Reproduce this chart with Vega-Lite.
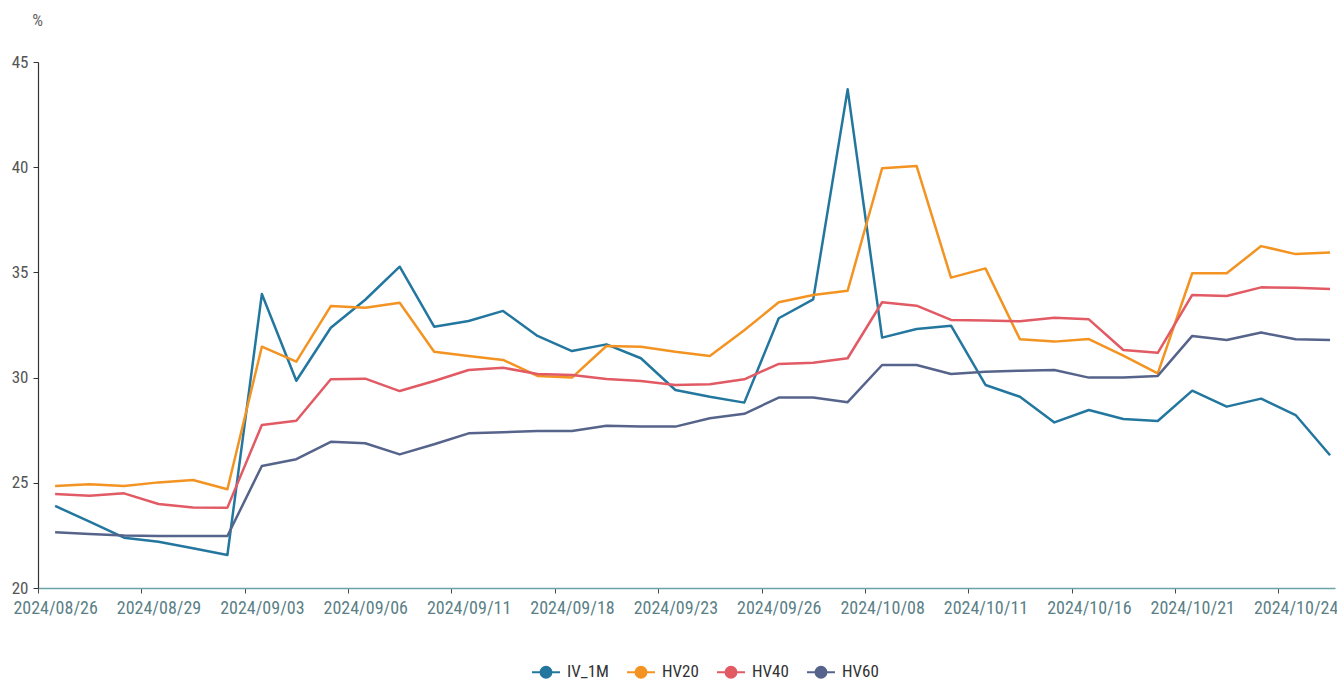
{
  "$schema": "https://vega.github.io/schema/vega-lite/v6.json",
  "width": 1297,
  "height": 526,
  "autosize": {"type": "none"},
  "padding": {"left": 38, "top": 62, "right": 2, "bottom": 95},
  "background": "white",
  "config": {
    "view": {"stroke": null},
    "font": "Liberation Sans Narrow, Roboto Condensed, Roboto, sans-serif"
  },
  "data": {
    "values": [
      {"date": "2024/08/26", "IV_1M": 23.9, "HV20": 24.85, "HV40": 24.47, "HV60": 22.65},
      {"date": "2024/08/27", "IV_1M": 23.15, "HV20": 24.93, "HV40": 24.39, "HV60": 22.57},
      {"date": "2024/08/28", "IV_1M": 22.39, "HV20": 24.85, "HV40": 24.5, "HV60": 22.49},
      {"date": "2024/08/29", "IV_1M": 22.2, "HV20": 25.02, "HV40": 23.99, "HV60": 22.47},
      {"date": "2024/08/30", "IV_1M": 21.89, "HV20": 25.13, "HV40": 23.83, "HV60": 22.47},
      {"date": "2024/09/02", "IV_1M": 21.57, "HV20": 24.69, "HV40": 23.82, "HV60": 22.47},
      {"date": "2024/09/03", "IV_1M": 33.97, "HV20": 31.47, "HV40": 27.75, "HV60": 25.8},
      {"date": "2024/09/04", "IV_1M": 29.85, "HV20": 30.76, "HV40": 27.95, "HV60": 26.12},
      {"date": "2024/09/05", "IV_1M": 32.37, "HV20": 33.4, "HV40": 29.92, "HV60": 26.95},
      {"date": "2024/09/06", "IV_1M": 33.7, "HV20": 33.32, "HV40": 29.95, "HV60": 26.88},
      {"date": "2024/09/09", "IV_1M": 35.27, "HV20": 33.56, "HV40": 29.36, "HV60": 26.35},
      {"date": "2024/09/10", "IV_1M": 32.42, "HV20": 31.23, "HV40": 29.84, "HV60": 26.83},
      {"date": "2024/09/11", "IV_1M": 32.69, "HV20": 31.03, "HV40": 30.36, "HV60": 27.35},
      {"date": "2024/09/12", "IV_1M": 33.17, "HV20": 30.84, "HV40": 30.47, "HV60": 27.4},
      {"date": "2024/09/13", "IV_1M": 31.98, "HV20": 30.08, "HV40": 30.17, "HV60": 27.46},
      {"date": "2024/09/18", "IV_1M": 31.26, "HV20": 30.0, "HV40": 30.12, "HV60": 27.46},
      {"date": "2024/09/19", "IV_1M": 31.58, "HV20": 31.5, "HV40": 29.93, "HV60": 27.71},
      {"date": "2024/09/20", "IV_1M": 30.92, "HV20": 31.47, "HV40": 29.84, "HV60": 27.67},
      {"date": "2024/09/23", "IV_1M": 29.41, "HV20": 31.23, "HV40": 29.65, "HV60": 27.67},
      {"date": "2024/09/24", "IV_1M": 29.09, "HV20": 31.03, "HV40": 29.68, "HV60": 28.07},
      {"date": "2024/09/25", "IV_1M": 28.81, "HV20": 32.25, "HV40": 29.92, "HV60": 28.28},
      {"date": "2024/09/26", "IV_1M": 32.82, "HV20": 33.58, "HV40": 30.65, "HV60": 29.05},
      {"date": "2024/09/27", "IV_1M": 33.72, "HV20": 33.93, "HV40": 30.71, "HV60": 29.05},
      {"date": "2024/09/30", "IV_1M": 43.7, "HV20": 34.13, "HV40": 30.92, "HV60": 28.83},
      {"date": "2024/10/08", "IV_1M": 31.9, "HV20": 39.95, "HV40": 33.58, "HV60": 30.6},
      {"date": "2024/10/09", "IV_1M": 32.31, "HV20": 40.06, "HV40": 33.42, "HV60": 30.6},
      {"date": "2024/10/10", "IV_1M": 32.47, "HV20": 34.75, "HV40": 32.74, "HV60": 30.17},
      {"date": "2024/10/11", "IV_1M": 29.65, "HV20": 35.19, "HV40": 32.71, "HV60": 30.28},
      {"date": "2024/10/14", "IV_1M": 29.09, "HV20": 31.82, "HV40": 32.68, "HV60": 30.33},
      {"date": "2024/10/15", "IV_1M": 27.87, "HV20": 31.71, "HV40": 32.85, "HV60": 30.36},
      {"date": "2024/10/16", "IV_1M": 28.46, "HV20": 31.83, "HV40": 32.77, "HV60": 30.0},
      {"date": "2024/10/17", "IV_1M": 28.03, "HV20": 31.04, "HV40": 31.31, "HV60": 30.0},
      {"date": "2024/10/18", "IV_1M": 27.94, "HV20": 30.2, "HV40": 31.18, "HV60": 30.08},
      {"date": "2024/10/21", "IV_1M": 29.38, "HV20": 34.96, "HV40": 33.93, "HV60": 31.98},
      {"date": "2024/10/22", "IV_1M": 28.62, "HV20": 34.96, "HV40": 33.88, "HV60": 31.79},
      {"date": "2024/10/23", "IV_1M": 29.0, "HV20": 36.25, "HV40": 34.29, "HV60": 32.14},
      {"date": "2024/10/24", "IV_1M": 28.22, "HV20": 35.87, "HV40": 34.27, "HV60": 31.82},
      {"date": "2024/10/25", "IV_1M": 26.31, "HV20": 35.94, "HV40": 34.21, "HV60": 31.79}
    ]
  },
  "transform": [
    {"fold": ["IV_1M", "HV20", "HV40", "HV60"], "as": ["series", "value"]}
  ],
  "mark": {"type": "line", "strokeWidth": 2.5, "strokeJoin": "round", "clip": true},
  "encoding": {
    "x": {
      "field": "date",
      "type": "ordinal",
      "sort": null,
      "scale": {"type": "point", "padding": 0.32, "align": 0.776},
      "axis": {
        "title": null,
        "values": ["2024/08/26", "2024/08/29", "2024/09/03", "2024/09/06", "2024/09/11", "2024/09/18", "2024/09/23", "2024/09/26", "2024/10/08", "2024/10/11", "2024/10/16", "2024/10/21", "2024/10/24"],
        "tickOffset": -17.23,
        "labelOffset": 17.23,
        "labelAngle": 0,
        "labelFontSize": 18,
        "labelColor": "#5b7f86",
        "labelPadding": 6,
        "tickSize": 5,
        "tickColor": "#4a4a4a",
        "tickWidth": 1,
        "domainColor": "#6aa2a8",
        "domainWidth": 1.5,
        "grid": false
      }
    },
    "y": {
      "field": "value",
      "type": "quantitative",
      "scale": {"domain": [20, 45], "nice": false, "zero": false},
      "axis": {
        "title": "%",
        "titleAngle": 0,
        "titleAlign": "center",
        "titleBaseline": "middle",
        "titleX": -1,
        "titleY": -42,
        "titleFontSize": 17,
        "titleFontWeight": "normal",
        "titleColor": "#666666",
        "values": [20, 25, 30, 35, 40, 45],
        "labelFontSize": 17,
        "labelColor": "#555555",
        "labelPadding": 5,
        "tickSize": 5,
        "tickColor": "#333333",
        "domainColor": "#333333",
        "domainWidth": 1.2,
        "grid": false
      }
    },
    "color": {
      "field": "series",
      "type": "nominal",
      "sort": ["IV_1M", "HV20", "HV40", "HV60"],
      "scale": {
        "domain": ["IV_1M", "HV20", "HV40", "HV60"],
        "range": ["#23779f", "#f39322", "#e15a64", "#56648c"]
      },
      "legend": {
        "title": null,
        "orient": "none",
        "direction": "horizontal",
        "legendX": 493,
        "legendY": 595,
        "padding": 0,
        "symbolType": "M-1,0L-0.39,0M0.39,0L1,0M-0.39,0A0.39,0.39 0 1,1 0.39,0A0.39,0.39 0 1,1 -0.39,0Z",
        "symbolSize": 784,
        "symbolStrokeWidth": 2,
        "labelFontSize": 17,
        "labelColor": "#333333",
        "labelOffset": 6,
        "columnPadding": 14,
        "encode": {
          "symbols": {
            "update": {
              "fill": {"scale": "color", "field": "value"},
              "stroke": {"scale": "color", "field": "value"},
              "opacity": {"value": 1}
            }
          }
        }
      }
    }
  }
}
